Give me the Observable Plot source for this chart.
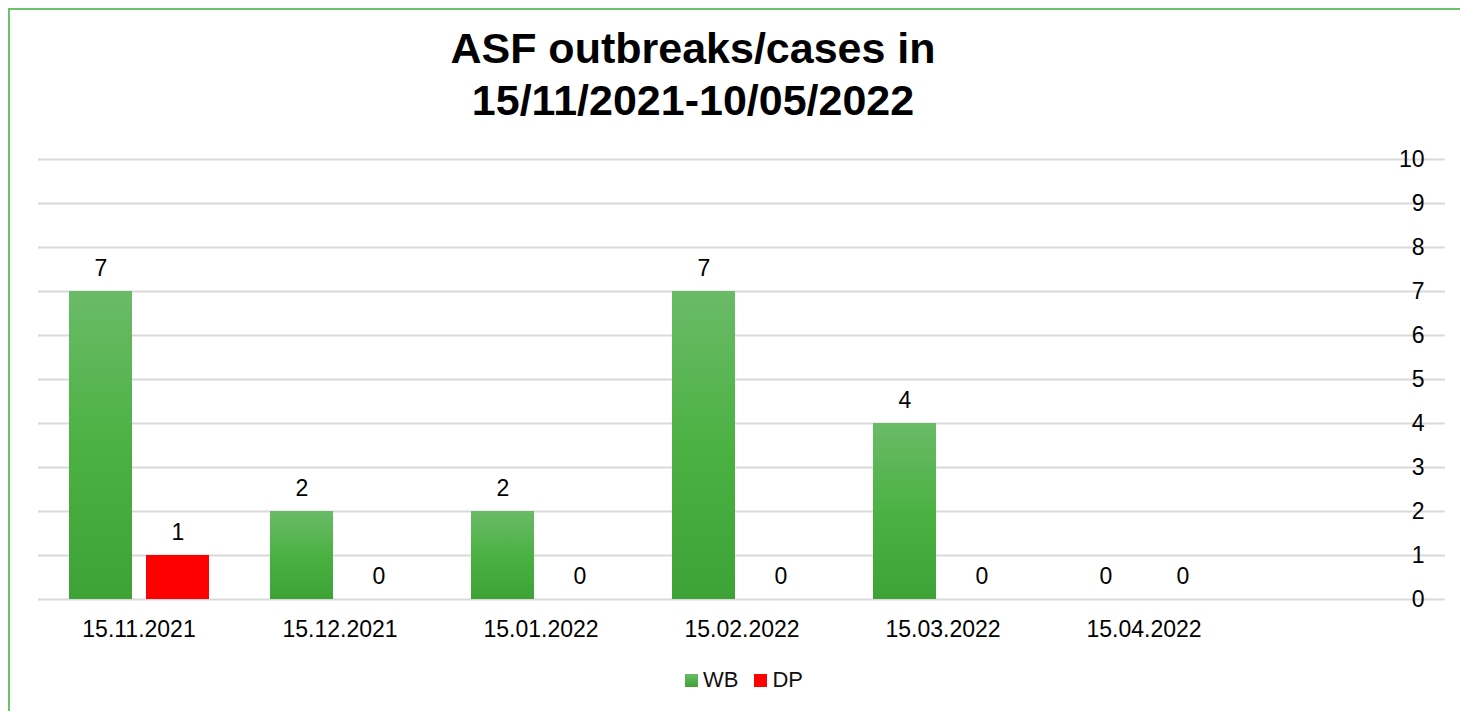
<!DOCTYPE html>
<html>
<head>
<meta charset="utf-8">
<script src="https://cdn.jsdelivr.net/npm/d3@7"></script>
<script src="https://cdn.jsdelivr.net/npm/@observablehq/plot@0.6"></script>
<style>
  html, body { margin: 0; padding: 0; background: #fff; overflow: hidden; }
  body { width: 1460px; height: 711px; position: relative; font-family: "Liberation Sans", Arial, sans-serif; }
  #border { position: absolute; left: 8px; top: 8px; width: 1500px; height: 800px; border: 2px solid #6cc46a; box-sizing: border-box; }
  #title { position: absolute; left: 0; top: 22px; width: 1386px; text-align: center; font-size: 43px; font-weight: bold; line-height: 52px; color: #000; }
  #chart { position: absolute; left: 0; top: 140px; }
  #legend { position: absolute; top: 667px; left: 685px; display: flex; align-items: center; font-size: 22px; color: #111; }
  .sw { width: 13px; height: 13px; display: inline-block; margin-right: 5px; }
  .item { display: flex; align-items: center; margin-right: 16px; }
</style>
</head>
<body>
<div id="border"></div>
<div id="title">ASF outbreaks/cases in<br>15/11/2021-10/05/2022</div>
<div id="chart"></div>
<div id="legend"></div>
<script>
const dates = ["15.11.2021", "15.12.2021", "15.01.2022", "15.02.2022", "15.03.2022", "15.04.2022", " "];
const series = ["WB", "DP"];
const wbValues = [7, 2, 2, 7, 4, 0];
const dpValues = [1, 0, 0, 0, 0, 0];
const yTicks = [0, 1, 2, 3, 4, 5, 6, 7, 8, 9, 10];
const seriesColors = ["url(#wbGrad)", "#ff0000"];

const data = [];
wbValues.forEach((v, i) => data.push({date: dates[i], series: "WB", value: v}));
dpValues.forEach((v, i) => data.push({date: dates[i], series: "DP", value: v}));

// gridlines in every category band (including the empty last band)
const grid = [];
dates.forEach(d => yTicks.forEach(t => grid.push({date: d, tick: t})));

const chart = Plot.plot({
  width: 1460,
  height: 509,
  marginLeft: 37,
  marginRight: 15,
  marginTop: 19,
  marginBottom: 50,
  style: {fontFamily: "Liberation Sans, Arial, sans-serif", fontSize: "23px", color: "#000", background: "transparent"},
  fx: {domain: dates, padding: 0, label: null},
  x: {domain: series, paddingInner: 0.182, paddingOuter: 0.396, axis: null},
  y: {domain: [0, 10], label: null},
  color: {domain: series, range: seriesColors},
  marks: [
    Plot.ruleY(grid, {fx: "date", y: "tick", stroke: "#d9d9d9", strokeWidth: 2}),
    Plot.barY(data, {fx: "date", x: "series", y: "value", fill: "series"}),
    Plot.text(data, {fx: "date", x: "series", y: "value", text: d => String(d.value), dy: -23, fontSize: 23, fill: "#000"}),
    Plot.axisY({ticks: yTicks, anchor: "right", tickSize: 0, tickPadding: 0, textAnchor: "end", dx: -21, fontSize: 23, label: null, fill: "#000"}),
    Plot.axisFx({anchor: "bottom", tickSize: 0, tickPadding: 21, fontSize: 23, label: null, fill: "#000"})
  ]
});

const ns = "http://www.w3.org/2000/svg";
const defs = document.createElementNS(ns, "defs");
defs.innerHTML = '<linearGradient id="wbGrad" x1="0" y1="0" x2="0" y2="1">' +
  '<stop offset="0" stop-color="#6abb67"/>' +
  '<stop offset="0.5" stop-color="#4cb143"/>' +
  '<stop offset="1" stop-color="#3ea336"/>' +
  '</linearGradient>';
chart.insertBefore(defs, chart.firstChild);
document.getElementById("chart").appendChild(chart);

const legend = document.getElementById("legend");
const swatchCss = ["linear-gradient(#6abb67, #3ea336)", "#ff0000"];
series.forEach((s, i) => {
  const item = document.createElement("div");
  item.className = "item";
  const sw = document.createElement("span");
  sw.className = "sw";
  sw.style.background = swatchCss[i];
  item.appendChild(sw);
  item.appendChild(document.createTextNode(s));
  legend.appendChild(item);
});
</script>
</body>
</html>
